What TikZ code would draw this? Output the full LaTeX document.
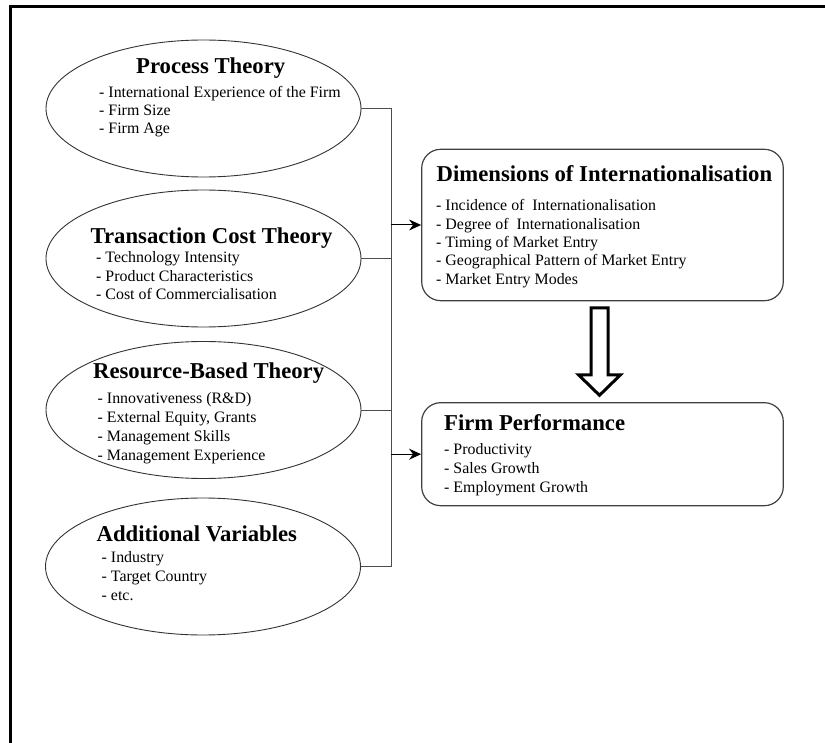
\documentclass[tikz,border=0pt]{standalone}
\usepackage{fontspec}
\setmainfont{Liberation Serif}
\usetikzlibrary{shapes.geometric,arrows.meta}
\begin{document}
\begin{tikzpicture}[x=1pt,y=-1pt,
  teoria/.style={draw=black!80, ellipse, line width=0.9pt, minimum width=315pt, minimum height=137pt, inner sep=0pt},
  caja/.style={draw=black!75, line width=1.2pt, rounded corners=19pt, minimum width=361.6pt, inner sep=0pt},
  titulo/.style={font=\fontsize{22.7}{26}\selectfont\bfseries, anchor=base west, inner sep=0pt},
  lista/.style={font=\fontsize{15.9}{18}\selectfont, anchor=base west, inner sep=0pt},
  enlace/.style={draw=black!70, line width=1pt},
  flecha/.style={enlace, draw=black, -{Stealth[length=12pt,width=11pt]}},
  hueca/.style={draw=black, line width=3pt, miter limit=10}]
\useasboundingbox (0,0) rectangle (825,743);

% Marco
\draw[line width=3pt] (10,743) -- (10,6.5) -- (825,6.5);

% Teorias (elipses)
\node[teoria] (proceso) at (203.5,108.5) {};
\node[titulo] (proceso-t) at (136,74) {Process Theory};
\foreach \t [count=\i] in {International Experience of the Firm, Firm Size, Firm Age}
  \node[lista] (proceso-\i) at (99,{98+17.7*(\i-1)}) {- \t};

\node[teoria] (transaccion) at (203.5,258.5) {};
\node[titulo] (transaccion-t) at (90.5,244) {Transaction Cost Theory};
\foreach \t [count=\i] in {Technology Intensity, Product Characteristics, Cost of Commercialisation}
  \node[lista] (transaccion-\i) at (96,{263+18.3*(\i-1)}) {- \t};

\node[teoria] (recursos) at (203.5,410) {};
\node[titulo] (recursos-t) at (93,379) {Resource-Based Theory};
\foreach \t [count=\i] in {Innovativeness (R\&D), {External Equity, Grants}, Management Skills, Management Experience}
  \node[lista] (recursos-\i) at (97.5,{403+19.1*(\i-1)}) {- \t};

\node[teoria] (adicional) at (203,566.5) {};
\node[titulo] (adicional-t) at (96.5,541) {Additional Variables};
\foreach \t [count=\i] in {Industry, Target Country, etc.}
  \node[lista] (adicional-\i) at (101.5,{562+19*(\i-1)}) {- \t};

% Cajas de la derecha
\node[caja, minimum height=151.4pt] (dim) at (602.5,225) {};
\node[titulo] (dim-t) at (436.5,182) {Dimensions of Internationalisation};
\foreach \t [count=\i] in {Incidence of \ Internationalisation, Degree of \ Internationalisation, Timing of Market Entry, Geographical Pattern of Market Entry, Market Entry Modes}
  \node[lista] (dim-\i) at (436,{211+18.3*(\i-1)}) {- \t};

\node[caja, minimum height=103pt] (firma) at (602.5,454.2) {};
\node[titulo] (firma-t) at (444,430) {Firm Performance};
\foreach \t [count=\i] in {Productivity, Sales Growth, Employment Growth}
  \node[lista] (firma-\i) at (444,{454.5+19*(\i-1)}) {- \t};

% Conectores
\draw[enlace] (proceso.east) -- ++(30,0) coordinate (bus) |- (adicional.east);
\draw[enlace] (transaccion.east) -- (transaccion.east -| bus);
\draw[enlace] (recursos.east) -- (recursos.east -| bus);
\draw[flecha] (dim.west -| bus) -- (dim.west);
\draw[flecha] (firma.west -| bus) -- (firma.west);

% Flecha hueca
\draw[hueca] ([xshift=-11.5pt,yshift=-6.5pt]dim.south) -- ++(17,0) -- ++(0,67) -- ++(12.5,0)
  -- ++(-21,20.5) -- ++(-21,-20.5) -- ++(12.5,0) -- cycle;
\end{tikzpicture}
\end{document}
